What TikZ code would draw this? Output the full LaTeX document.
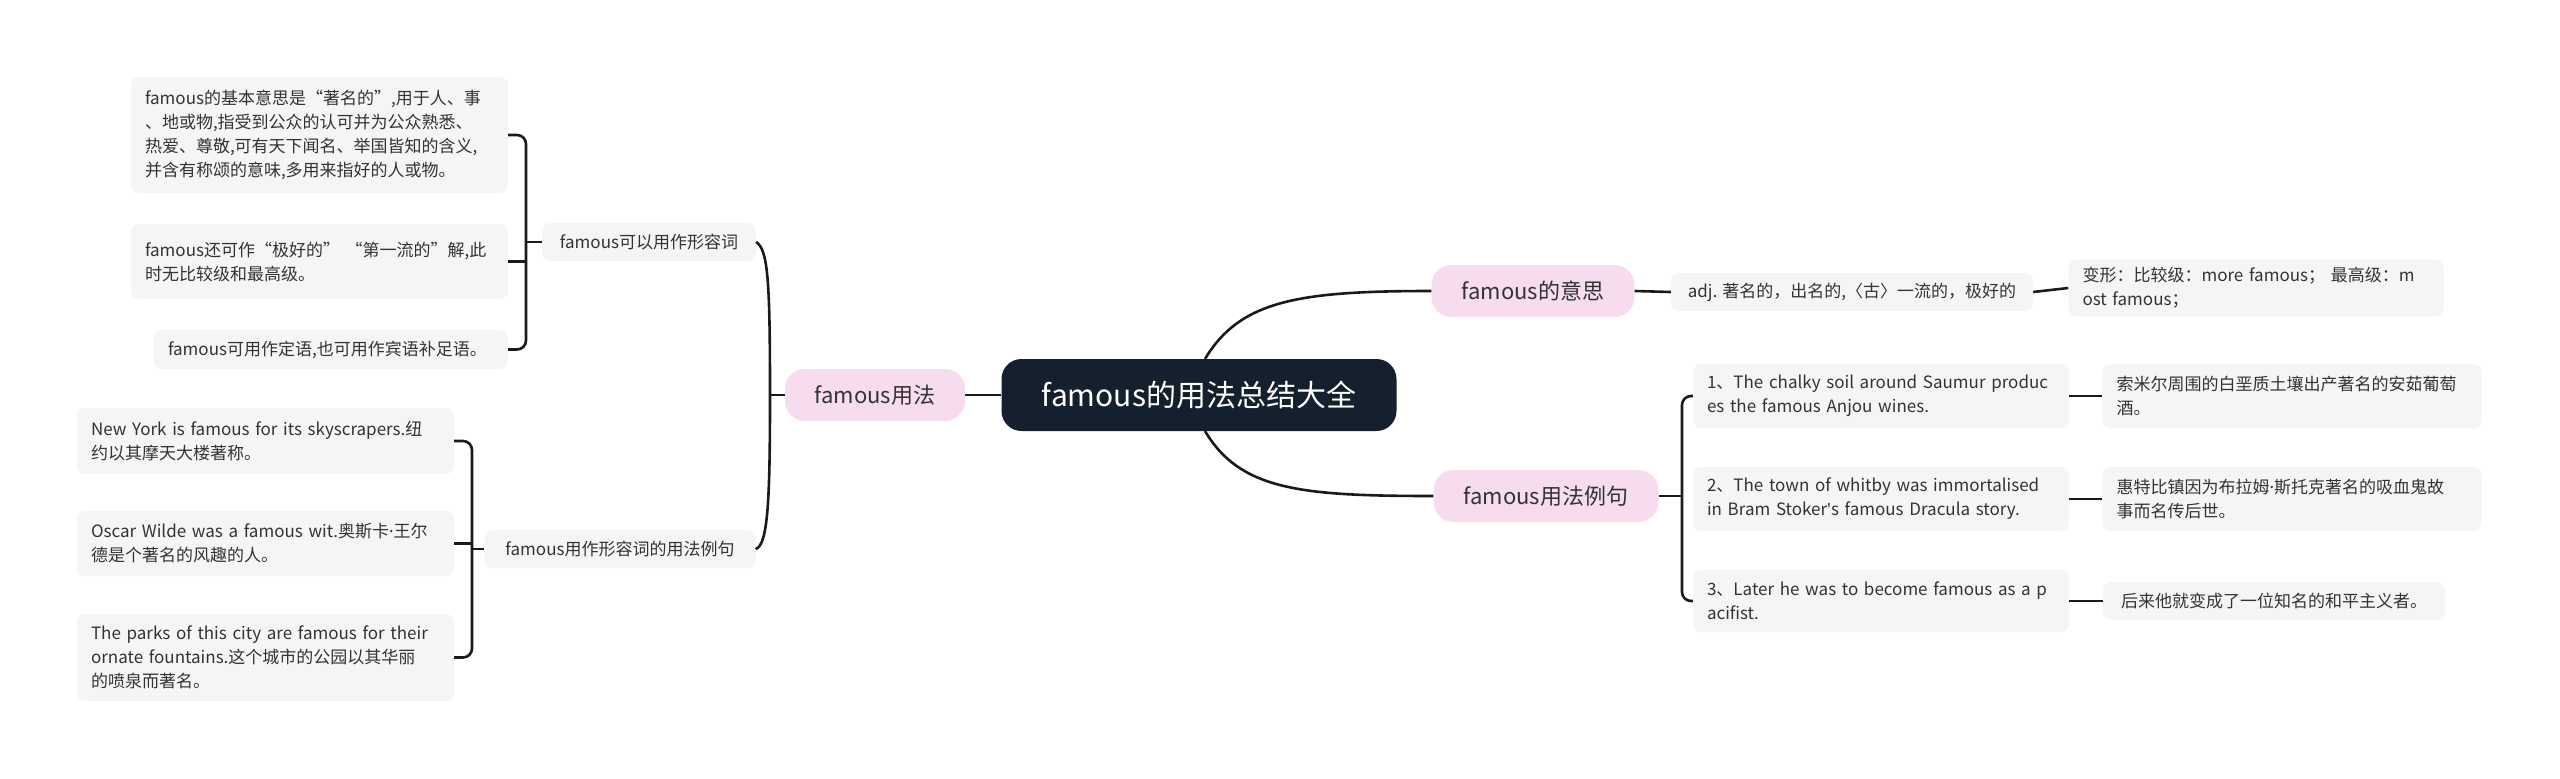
\documentclass[tikz,border=0pt]{standalone}
\usepackage{fontspec}
\setmainfont{Noto Sans CJK SC}
\newfontfamily\latinf{Noto Sans}
\begin{document}
\begin{tikzpicture}[x=1pt,y=-1pt,
  every node/.style={inner sep=0pt},
  root/.style={fill=rootc,rounded corners=20pt,text=white,font=\fontsize{30}{36}\selectfont,minimum width=395pt,minimum height=72pt},
  pink/.style={fill=pinkc,rounded corners=20pt,font=\fontsize{22}{26}\selectfont,text=txt,minimum height=52pt},
  leaf/.style={fill=greyc,rounded corners=8pt,font=\fontsize{17}{24}\selectfont,text=txt,align=left,inner xsep=14pt,inner ysep=8pt},
  sub/.style={fill=greyc,rounded corners=8pt,font=\fontsize{17}{24}\selectfont,text=txt,minimum height=38pt,inner xsep=12pt},
  ln/.style={draw=linec,line width=2.6pt},
  br/.style={draw=linec,line width=2.6pt,rounded corners=9pt}]
\definecolor{rootc}{HTML}{15202F}
\definecolor{pinkc}{HTML}{F7DCEF}
\definecolor{greyc}{HTML}{F5F5F5}
\definecolor{linec}{HTML}{1A1A1A}
\definecolor{txt}{HTML}{333333}
\useasboundingbox (0,0) rectangle (2560,779);

\node[root] (R) at (1199,395) {famous的用法总结大全};
\node[pink,minimum width=203pt] (M) at (1533,291) {famous的意思};
\node[pink,minimum width=225pt] (E) at (1546,496) {famous用法例句};
\node[pink,minimum width=180pt] (U) at (875,395) {famous用法};

\node[sub,minimum width=362pt] (adj) at (1852,292) {adj. 著名的，出名的,〈古〉一流的，极好的};
\node[leaf,text width=347pt,minimum height=53pt] (bx) at (2256,288) {变形：比较级：more famous； 最高级：m\\ost famous；};

\node[leaf,text width=348pt,minimum height=64pt] (e1) at (1881,396) {1、The chalky soil around Saumur produc\\es the famous Anjou wines.};
\node[leaf,text width=348pt,minimum height=64pt] (e2) at (1881,499) {2、The town of whitby was immortalised\\in Bram Stoker{\latinf\char"0027}s famous Dracula story.};
\node[leaf,text width=348pt,minimum height=62pt] (e3) at (1881,601) {3、Later he was to become famous as a p\\acifist.};
\node[leaf,text width=351pt,minimum height=64pt] (c1) at (2292,396) {索米尔周围的白垩质土壤出产著名的安茹葡萄\\酒。};
\node[leaf,text width=351pt,minimum height=64pt] (c2) at (2292,499) {惠特比镇因为布拉姆{\latinf ·}斯托克著名的吸血鬼故\\事而名传后世。};
\node[sub,minimum width=342pt] (c3) at (2274,601) {后来他就变成了一位知名的和平主义者。};

\node[sub,minimum width=214pt] (A) at (649,242) {famous可以用作形容词};
\node[sub,minimum width=271pt] (B) at (620,549) {famous用作形容词的用法例句};

\node[leaf,text width=349pt,minimum height=116pt] (a1) at (319.5,135) {famous的基本意思是“著名的”,用于人、事\\、地或物,指受到公众的认可并为公众熟悉、\\热爱、尊敬,可有天下闻名、举国皆知的含义,\\并含有称颂的意味,多用来指好的人或物。};
\node[leaf,text width=349pt,minimum height=75pt] (a2) at (319.5,261.5) {famous还可作“极好的” “第一流的”解,此\\时无比较级和最高级。};
\node[leaf,text width=326pt,minimum height=39pt] (a3) at (331,349.5) {famous可用作定语,也可用作宾语补足语。};

\node[leaf,text width=349pt,minimum height=66pt] (b1) at (265.5,441) {New York is famous for its skyscrapers.纽\\约以其摩天大楼著称。};
\node[leaf,text width=349pt,minimum height=65pt] (b2) at (265.5,543.5) {Oscar Wilde was a famous wit.奥斯卡{\latinf ·}王尔\\德是个著名的风趣的人。};
\node[leaf,text width=349pt,minimum height=87pt] (b3) at (265.5,657.5) {The parks of this city are famous for their\\ornate fountains.这个城市的公园以其华丽\\的喷泉而著名。};

% connectors
\draw[ln] (1205,359) .. controls (1240,300) and (1300,291) .. (M.west);
\draw[ln] (1205,431) .. controls (1240,490) and (1300,496) .. (E.west);
\draw[ln] (R.west) -- (U.east);
\draw[ln] (U.west) -- (770,395);
\draw[ln] (770,395) .. controls (770,280) and (768,250) .. (A.east);
\draw[ln] (770,395) .. controls (770,500) and (768,545) .. (B.east);
\draw[ln] (M.east) -- (adj.west);
\draw[ln] (adj.east) -- (bx.west);
\draw[ln] (E.east) -- (1682,496);
\draw[br] (e1.west) -- (1682,396) -- (1682,601) -- (e3.west);
\draw[ln] (e1.east) -- (c1.west);
\draw[ln] (e2.east) -- (c2.west);
\draw[ln] (e3.east) -- (c3.west);
\draw[ln] (A.west) -- (526,242);
\draw[br] (a1.east) -- (526,135) -- (526,349.5) -- (a3.east);
\draw[ln] (a2.east) -- (526,261.5);
\draw[ln] (B.west) -- (472,549);
\draw[br] (b1.east) -- (472,441) -- (472,657.5) -- (b3.east);
\draw[ln] (b2.east) -- (472,543.5);
\end{tikzpicture}
\end{document}
